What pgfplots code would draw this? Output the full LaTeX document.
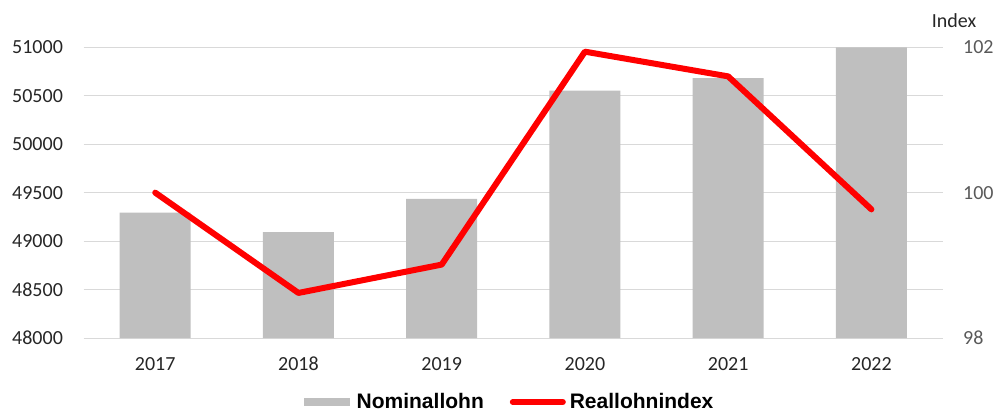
\documentclass[border=0pt]{standalone}
\usepackage{pgfplots}
\pgfplotsset{compat=1.18}
\usepackage{fontspec}
\setmainfont{Carlito}
\newfontfamily\legendfont{Liberation Sans}[BoldFont={Liberation Sans Bold}]
\definecolor{barg}{HTML}{BFBFBF}
\definecolor{gridg}{HTML}{D9D9D9}
\definecolor{lbl}{HTML}{262626}
\definecolor{rlbl}{HTML}{595959}
\begin{document}
\begin{tikzpicture}
\path[use as bounding box] (-83.6pt,-74pt) rectangle (911.4pt,338pt);
\begin{axis}[
  at={(0pt,0pt)}, anchor=south west,
  scale only axis, width=859.4pt, height=290.7pt,
  xmin=-0.5, xmax=5.5, ymin=48000, ymax=51000,
  xtick={0,1,2,3,4,5}, xticklabels={2017,2018,2019,2020,2021,2022},
  ytick={48000,48500,49000,49500,50000,50500,51000},
  scaled y ticks=false,
  ymajorgrids, grid style={gridg, line width=1pt},
  axis line style={draw=none},
  major tick length=0pt,
  font=\fontsize{20}{24}\selectfont,
  /pgf/number format/assume math mode=true,
  /pgf/number format/1000 sep={},
  yticklabel style={anchor=east, inner sep=0pt, xshift=-20.5pt, text=lbl},
  xticklabel style={anchor=north, inner sep=0pt, yshift=-19pt, text=lbl},
  clip=false,
]
\addplot[ybar, bar width=71pt, fill=barg, draw=none, bar shift=0pt] coordinates {
  (0,49294) (1,49093) (2,49435) (3,50552) (4,50682) (5,51000)};
\end{axis}
\begin{axis}[
  at={(0pt,0pt)}, anchor=south west,
  scale only axis, width=859.4pt, height=290.7pt,
  xmin=-0.5, xmax=5.5, ymin=98, ymax=102,
  axis y line*=right, axis x line=none,
  ytick={98,100,102},
  axis line style={draw=none},
  major tick length=0pt,
  font=\fontsize{20}{24}\selectfont,
  /pgf/number format/assume math mode=true,
  yticklabel style={anchor=west, inner sep=0pt, xshift=20pt, text=rlbl},
  clip=false,
  legend columns=2,
  legend style={draw=none, fill=none, at={(0.5,0)}, anchor=center, yshift=-64pt, xshift=-4pt,
    font=\fontsize{21}{24}\legendfont\bfseries, text=black,
    /tikz/every even column/.append style={column sep=25pt},
    nodes={inner sep=1pt, text=black}},
]
\addlegendimage{legend image code/.code={\fill[barg] (0pt,-3.5pt) rectangle (45pt,3.5pt);}}
\addlegendentry{\hspace{6pt}Nominallohn}
\addplot[red, line width=6pt, line cap=round, line join=round,
  legend image code/.code={\draw[red, line width=6pt, line cap=round] (0pt,0pt) -- (50pt,0pt);}]
  coordinates {(0,100.0) (1,98.62) (2,99.01) (3,101.94) (4,101.60) (5,99.77)};
\addlegendentry{\hspace{3pt}Reallohnindex}
\node[font=\fontsize{20}{24}\selectfont, text=lbl] at (axis description cs:1,1) [xshift=11pt, yshift=27pt] {Index};
\end{axis}
\end{tikzpicture}
\end{document}
